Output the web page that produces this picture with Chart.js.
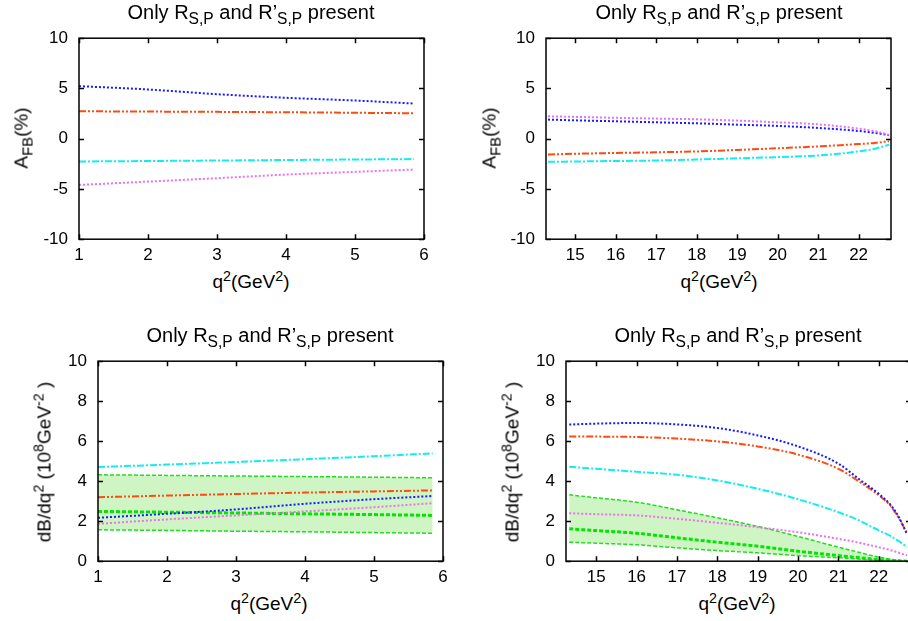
<!DOCTYPE html>
<html>
<head>
<meta charset="utf-8">
<script src="https://cdn.jsdelivr.net/npm/chart.js@4.4.1/dist/chart.umd.min.js"></script>
<style>
  html, body { margin: 0; padding: 0; overflow: hidden; background: #fff; }
  body { width: 908px; height: 621px; position: relative; font-family: "Liberation Sans", Arial, sans-serif; }
  canvas { position: absolute; }
  .lbl { position: absolute; white-space: nowrap; color: #000; font-size: 19px; line-height: 1; }
  .title { font-size: 20px; }
  .c { transform: translateX(-50%); }
  .rot { transform: translate(-50%, -50%) rotate(-90deg); }
  .sub { font-size: 0.78em; position: relative; top: 0.32em; }
  .sup { font-size: 0.75em; position: relative; top: -0.5em; }
</style>
</head>
<body>
<canvas id="afbLow" width="440" height="240" style="left:0px;top:28px"></canvas>
<canvas id="afbHigh" width="436" height="240" style="left:470px;top:28px"></canvas>
<canvas id="brLow" width="460" height="240" style="left:0px;top:350px"></canvas>
<canvas id="brHigh" width="460" height="240" style="left:470px;top:350px"></canvas>

<div class="lbl title c" style="left:251px;top:2px">Only R<span class="sub">S,P</span> and R’<span class="sub">S,P</span> present</div>
<div class="lbl title c" style="left:719px;top:2px">Only R<span class="sub">S,P</span> and R’<span class="sub">S,P</span> present</div>
<div class="lbl title c" style="left:270px;top:325px">Only R<span class="sub">S,P</span> and R’<span class="sub">S,P</span> present</div>
<div class="lbl title c" style="left:738px;top:325px">Only R<span class="sub">S,P</span> and R’<span class="sub">S,P</span> present</div>

<div class="lbl c" style="left:251px;top:272px">q<span class="sup">2</span>(GeV<span class="sup">2</span>)</div>
<div class="lbl c" style="left:719px;top:272px">q<span class="sup">2</span>(GeV<span class="sup">2</span>)</div>
<div class="lbl c" style="left:269px;top:594px">q<span class="sup">2</span>(GeV<span class="sup">2</span>)</div>
<div class="lbl c" style="left:737px;top:594px">q<span class="sup">2</span>(GeV<span class="sup">2</span>)</div>

<div class="lbl rot" style="left:21px;top:138px">A<span class="sub">FB</span>(%)</div>
<div class="lbl rot" style="left:489px;top:138px">A<span class="sub">FB</span>(%)</div>
<div class="lbl rot" style="left:44px;top:462px">dB/dq<span class="sup">2</span> (10<span class="sup">8</span>GeV<span class="sup">-2</span> )</div>
<div class="lbl rot" style="left:512px;top:462px">dB/dq<span class="sup">2</span> (10<span class="sup">8</span>GeV<span class="sup">-2</span> )</div>

<script>
// q^2 sample points (GeV^2)
const q2Low = [1, 2, 3, 4, 5, 5.85];
const q2HighAfb = [14.33, 15, 16, 17, 18, 19, 20, 21, 22, 22.4, 22.75];
const q2HighBr = [14.33, 15, 16, 17, 18, 19, 20, 21, 21.5, 22, 22.3, 22.5, 22.7];

// tick labels
const xTicksLow = [1, 2, 3, 4, 5, 6];
const xTicksHigh = [15, 16, 17, 18, 19, 20, 21, 22];
const yTicksAfb = [-10, -5, 0, 5, 10];
const yTicksBr = [0, 2, 4, 6, 8, 10];

// A_FB (%) low q^2
const afbLowBlue = [5.23, 4.9, 4.43, 4.07, 3.8, 3.5];
const afbLowOrange = [2.73, 2.7, 2.67, 2.63, 2.58, 2.53];
const afbLowCyan = [-2.27, -2.22, -2.17, -2.12, -2.07, -2.03];
const afbLowMagenta = [-4.6, -4.27, -3.93, -3.57, -3.3, -3.07];

// A_FB (%) high q^2
const afbHighMagenta = [2.23, 2.17, 2.08, 2.0, 1.93, 1.8, 1.63, 1.43, 1.0, 0.75, 0.38];
const afbHighBlue = [1.9, 1.83, 1.73, 1.63, 1.53, 1.4, 1.27, 1.07, 0.77, 0.58, 0.35];
const afbHighOrange = [-1.57, -1.5, -1.42, -1.35, -1.27, -1.12, -0.95, -0.77, -0.53, -0.42, -0.25];
const afbHighCyan = [-2.3, -2.27, -2.22, -2.17, -2.07, -1.95, -1.83, -1.67, -1.27, -1.0, -0.6];

// dB/dq^2 (1e-8 GeV^-2) low q^2
const brLowCyan = [4.71, 4.83, 4.96, 5.1, 5.25, 5.39];
const brLowOrange = [3.2, 3.28, 3.36, 3.43, 3.49, 3.54];
const brLowBlue = [2.17, 2.37, 2.59, 2.87, 3.1, 3.26];
const brLowMagenta = [1.87, 2.09, 2.29, 2.49, 2.7, 2.9];
const brLowSmUpper = [4.32, 4.29, 4.26, 4.23, 4.2, 4.17];
const brLowSm = [2.49, 2.45, 2.41, 2.37, 2.33, 2.29];
const brLowSmLower = [1.57, 1.54, 1.5, 1.47, 1.43, 1.4];

// dB/dq^2 (1e-8 GeV^-2) high q^2
const brHighBlue = [6.83, 6.88, 6.91, 6.84, 6.66, 6.29, 5.74, 4.88, 4.12, 3.37, 2.8, 2.2, 1.35];
const brHighOrange = [6.24, 6.23, 6.21, 6.13, 5.99, 5.74, 5.33, 4.62, 4.0, 3.3, 2.75, 2.15, 1.4];
const brHighCyan = [4.72, 4.62, 4.47, 4.32, 4.04, 3.62, 3.1, 2.45, 2.05, 1.54, 1.25, 1.0, 0.7];
const brHighMagenta = [2.4, 2.35, 2.29, 2.12, 1.92, 1.7, 1.45, 1.12, 0.93, 0.7, 0.55, 0.42, 0.29];
const brHighSmUpper = [3.32, 3.17, 2.95, 2.57, 2.17, 1.74, 1.24, 0.7, 0.45, 0.2, 0.1, 0.04, 0];
const brHighSm = [1.62, 1.53, 1.4, 1.17, 0.95, 0.75, 0.5, 0.28, 0.18, 0.08, 0.04, 0.02, 0];
const brHighSmLower = [0.95, 0.9, 0.82, 0.67, 0.53, 0.42, 0.28, 0.17, 0.11, 0.05, 0.03, 0.01, 0];

const styles = {
  blue:    { borderColor: '#1a1aff', borderWidth: 2, borderDash: [2, 2] },
  orange:  { borderColor: '#ff4a10', borderWidth: 2, borderDash: [7, 2, 2, 2, 2, 2] },
  cyan:    { borderColor: '#10eef0', borderWidth: 2, borderDash: [7, 2, 2, 2] },
  magenta: { borderColor: '#ee70ee', borderWidth: 2, borderDash: [2, 2] },
  band:    { borderColor: '#22dd22', borderWidth: 1.5, borderDash: [4, 2] },
  sm:      { borderColor: '#00e600', borderWidth: 3, borderDash: [4, 2] }
};

function line(xs, ys, style, extra) {
  return Object.assign({
    data: xs.map((x, i) => ({ x: x, y: ys[i] })),
    pointRadius: 0,
    fill: false,
    cubicInterpolationMode: 'monotone'
  }, styles[style], extra || {});
}

const framePlugin = {
  id: 'frame',
  afterDraw(chart) {
    const { ctx, chartArea: a } = chart;
    const x = chart.scales.x, y = chart.scales.y;
    ctx.save();
    ctx.strokeStyle = '#000';
    ctx.lineWidth = 1.5;
    ctx.beginPath();
    x.ticks.forEach(t => {
      const px = Math.round(x.getPixelForValue(t.value)) + 0.5;
      ctx.moveTo(px, a.bottom); ctx.lineTo(px, a.bottom - 5);
      ctx.moveTo(px, a.top); ctx.lineTo(px, a.top + 5);
    });
    y.ticks.forEach(t => {
      const py = Math.round(y.getPixelForValue(t.value)) + 0.5;
      ctx.moveTo(a.left, py); ctx.lineTo(a.left + 5, py);
      ctx.moveTo(a.right, py); ctx.lineTo(a.right - 5, py);
    });
    ctx.stroke();
    ctx.strokeRect(a.left, a.top, a.right - a.left, a.bottom - a.top);
    ctx.restore();
  }
};

function makePanel(id, canvasBox, plot, xr, xTicks, yr, yTicks, datasets) {
  const canvas = document.getElementById(id);
  const yWidth = plot.left - canvasBox.x;
  const xHeight = canvasBox.y + canvasBox.h - plot.bottom;
  const chart = new Chart(canvas, {
    type: 'line',
    data: { datasets: datasets },
    plugins: [framePlugin],
    options: {
      responsive: false,
      maintainAspectRatio: false,
      animation: false,
      layout: { padding: { left: 0, bottom: 0, top: plot.top - canvasBox.y, right: canvasBox.x + canvasBox.w - plot.right } },
      plugins: {
        legend: { display: false },
        tooltip: { enabled: false },
        filler: { drawTime: 'beforeDatasetsDraw' }
      },
      scales: {
        x: {
          type: 'linear', min: xr[0], max: xr[1],
          grid: { display: false, drawTicks: false },
          border: { display: false },
          afterBuildTicks: s => { s.ticks = xTicks.map(v => ({ value: v })); },
          afterFit: s => { s.height = xHeight; },
          ticks: { color: '#000', font: { family: 'Liberation Sans', size: 17 }, padding: 6, maxRotation: 0, autoSkip: false }
        },
        y: {
          type: 'linear', min: yr[0], max: yr[1],
          grid: { display: false, drawTicks: false },
          border: { display: false },
          afterBuildTicks: s => { s.ticks = yTicks.map(v => ({ value: v })); },
          afterFit: s => { s.width = yWidth; },
          ticks: { color: '#000', font: { family: 'Liberation Sans', size: 17 }, padding: 11 }
        }
      }
    }
  });
  // resize and shift the canvas so the plot box lands on the wanted pixels
  const a = chart.chartArea;
  const newW = canvasBox.w + (plot.right - plot.left) - (a.right - a.left);
  const newH = canvasBox.h + (plot.bottom - plot.top) - (a.bottom - a.top);
  chart.resize(newW, newH);
  const b = chart.chartArea;
  canvas.style.left = (plot.left - b.left) + 'px';
  canvas.style.top = (plot.top - b.top) + 'px';
  return chart;
}

makePanel('afbLow', { x: 0, y: 28, w: 440, h: 240 }, { left: 79, right: 424, top: 38, bottom: 239 },
  [1, 6], xTicksLow, [-10, 10], yTicksAfb, [
    line(q2Low, afbLowBlue, 'blue'),
    line(q2Low, afbLowOrange, 'orange'),
    line(q2Low, afbLowCyan, 'cyan'),
    line(q2Low, afbLowMagenta, 'magenta')
  ]);

makePanel('afbHigh', { x: 470, y: 28, w: 436, h: 240 }, { left: 546, right: 891, top: 38, bottom: 239 },
  [14.28, 22.8], xTicksHigh, [-10, 10], yTicksAfb, [
    line(q2HighAfb, afbHighMagenta, 'magenta'),
    line(q2HighAfb, afbHighBlue, 'blue'),
    line(q2HighAfb, afbHighOrange, 'orange'),
    line(q2HighAfb, afbHighCyan, 'cyan')
  ]);

makePanel('brLow', { x: 0, y: 350, w: 460, h: 240 }, { left: 98, right: 443, top: 361, bottom: 561 },
  [1, 6], xTicksLow, [0, 10], yTicksBr, [
    line(q2Low, brLowCyan, 'cyan'),
    line(q2Low, brLowOrange, 'orange'),
    line(q2Low, brLowBlue, 'blue'),
    line(q2Low, brLowMagenta, 'magenta'),
    line(q2Low, brLowSm, 'sm'),
    line(q2Low, brLowSmUpper, 'band', { fill: '+1', backgroundColor: 'rgb(208,245,196)' }),
    line(q2Low, brLowSmLower, 'band')
  ]);

makePanel('brHigh', { x: 470, y: 350, w: 460, h: 240 }, { left: 566, right: 911, top: 361, bottom: 561 },
  [14.25, 22.8], xTicksHigh, [0, 10], yTicksBr, [
    line(q2HighBr, brHighBlue, 'blue'),
    line(q2HighBr, brHighOrange, 'orange'),
    line(q2HighBr, brHighCyan, 'cyan'),
    line(q2HighBr, brHighMagenta, 'magenta'),
    line(q2HighBr, brHighSm, 'sm'),
    line(q2HighBr, brHighSmUpper, 'band', { fill: '+1', backgroundColor: 'rgb(208,245,196)' }),
    line(q2HighBr, brHighSmLower, 'band')
  ]);
</script>
</body>
</html>
